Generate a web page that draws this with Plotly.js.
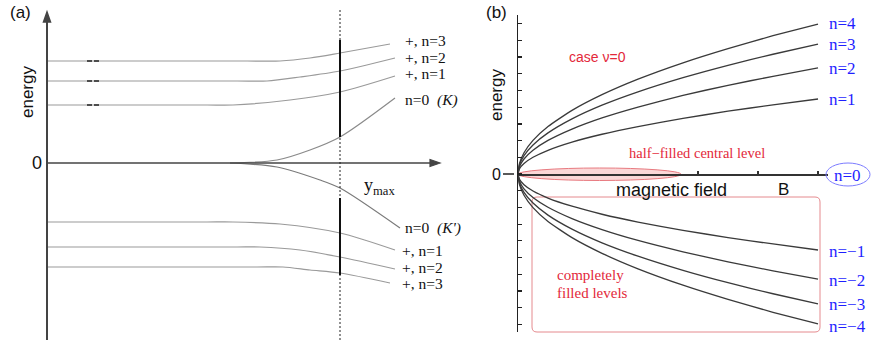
<!DOCTYPE html>
<html><head><meta charset="utf-8">
<script src="https://cdn.plot.ly/plotly-3.0.1.min.js"></script>
<style>html,body{margin:0;padding:0;background:#fff}#c{width:871px;height:347px}</style>
</head><body><div id="c"></div>
<script>
// ---------- Panel (a): levels vs position (x in arbitrary units, energy in arbitrary units)
const aUp3X = [0, 2.0, 2.33, 2.63, 2.93, 3.43];
const aUp3Y = [1.02, 1.02, 1.02, 1.05, 1.10, 1.19];
const aUp2X = [0, 1.9, 2.2, 2.53, 2.93, 3.48];
const aUp2Y = [0.82, 0.82, 0.82, 0.86, 0.92, 1.05];
const aUp1X = [0, 1.6, 1.86, 2.43, 2.93, 3.48];
const aUp1Y = [0.58, 0.58, 0.58, 0.63, 0.71, 0.87];
const aK0X  = [1.83, 2.3, 2.63, 2.93, 3.48];
const aK0Y  = [0.0, 0.03, 0.13, 0.26, 0.65];
const aKp0X = [1.83, 2.3, 2.73, 2.93, 3.53];
const aKp0Y = [0.0, -0.04, -0.17, -0.25, -0.65];
const aLo1X = [0, 1.6, 1.86, 2.33, 2.93, 3.48];
const aLo1Y = [-0.59, -0.59, -0.59, -0.61, -0.70, -0.87];
const aLo2X = [0, 1.9, 2.13, 2.53, 2.93, 3.48];
const aLo2Y = [-0.84, -0.84, -0.84, -0.87, -0.94, -1.06];
const aLo3X = [0, 2.1, 2.36, 2.63, 2.93, 3.43];
const aLo3Y = [-1.04, -1.04, -1.04, -1.07, -1.10, -1.20];
const aUpperLabels = ["+, n=3", "+, n=2", "+, n=1", "n=0  <i>(K)</i>"];
const aLowerLabels = ["n=0  <i>(K')</i>", "+, n=1", "+, n=2", "+, n=3"];

// ---------- Panel (b): Landau levels vs magnetic field
const bB   = [0, 0.005, 0.02, 0.05, 0.1, 0.18, 0.28, 0.4, 0.55, 0.7, 0.85, 1.0];
const bP1  = [0, 0.32, 0.63, 1.00, 1.42, 1.91, 2.38, 2.84, 3.33, 3.76, 4.14, 4.49];
const bP2  = [0, 0.45, 0.90, 1.42, 2.01, 2.69, 3.36, 4.01, 4.71, 5.31, 5.85, 6.35];
const bP3  = [0, 0.55, 1.10, 1.74, 2.46, 3.30, 4.12, 4.92, 5.77, 6.51, 7.17, 7.78];
const bP4  = [0, 0.63, 1.27, 2.01, 2.84, 3.81, 4.75, 5.68, 6.66, 7.51, 8.28, 8.98];
const bM1  = [0, -0.32, -0.64, -1.02, -1.44, -1.93, -2.41, -2.88, -3.37, -3.81, -4.19, -4.55];
const bM2  = [0, -0.44, -0.89, -1.41, -1.99, -2.67, -3.33, -3.98, -4.66, -5.26, -5.80, -6.29];
const bM3  = [0, -0.55, -1.10, -1.74, -2.46, -3.30, -4.12, -4.92, -5.77, -6.51, -7.17, -7.78];
const bM4  = [0, -0.63, -1.27, -2.01, -2.84, -3.81, -4.75, -5.68, -6.66, -7.51, -8.28, -8.98];
const bPosLabels = ["n=4", "n=3", "n=2", "n=1"];
const bNegLabels = ["n=\u22121", "n=\u22122", "n=\u22123", "n=\u22124"];

const W = 871, H = 347;
const PX = p => p / W, PY = p => 1 - p / H;
const SERIF = "Liberation Serif, Times New Roman, serif";
const SANS = "Liberation Sans, Arial, sans-serif";
const RED = "#e3283a", BLUE = "#1f1fff";

function aLine(x, y, col) {
  return {x: x, y: y, xaxis: "x", yaxis: "y", mode: "lines",
    line: {color: col, width: 1.2, shape: "spline", smoothing: 0.8}, hoverinfo: "skip"};
}
function bLine(y) {
  return {x: bB, y: y, xaxis: "x2", yaxis: "y2", mode: "lines",
    line: {color: "#3a3a3a", width: 1.3, shape: "spline", smoothing: 0.5}, hoverinfo: "skip"};
}
const traces = [
  aLine(aUp3X, aUp3Y, "#9a9a9a"), aLine(aUp2X, aUp2Y, "#9a9a9a"), aLine(aUp1X, aUp1Y, "#9a9a9a"),
  aLine(aK0X, aK0Y, "#8a8a8a"), aLine(aKp0X, aKp0Y, "#7a7a7a"),
  aLine(aLo1X, aLo1Y, "#9a9a9a"), aLine(aLo2X, aLo2Y, "#9a9a9a"), aLine(aLo3X, aLo3Y, "#9a9a9a"),
  bLine(bP1), bLine(bP2), bLine(bP3), bLine(bP4),
  bLine(bM1), bLine(bM2), bLine(bM3), bLine(bM4)
];

function seg(x0, y0, x1, y1, col, w, dash) {
  return {type: "line", xref: "paper", yref: "paper", x0: PX(x0), y0: PY(y0), x1: PX(x1), y1: PY(y1),
    line: {color: col, width: w, dash: dash || "solid"}, layer: "above"};
}
function poly(pts, col, w, closed, fill) {
  let s = "";
  pts.forEach((p, i) => { s += (i ? " L" : "M") + PX(p[0]) + "," + PY(p[1]); });
  if (closed) s += " Z";
  return {type: "path", xref: "paper", yref: "paper", path: s,
    line: {color: col, width: w}, fillcolor: fill || "rgba(0,0,0,0)", layer: "above"};
}
const shapes = [
  // axes of panel (a)
  seg(47, 14, 47, 340, "#444", 2),
  poly([[43.5, 22], [47, 12], [50.5, 22]], "#444", 1.5, true, "#444"),
  seg(47, 163, 438, 163, "#444", 1.5),
  poly([[430, 159.5], [440, 163], [430, 166.5]], "#444", 1.2, true, "#444"),
  // y_max marker in panel (a)
  seg(340, 10, 340, 340, "#222", 1, "2px,2px"),
  seg(340, 40, 340, 137, "#111", 2),
  seg(340, 198, 340, 275, "#111", 2),
  // short dashes on the levels
  seg(87, 61, 99, 61, "#222", 1.5, "5px,2px"),
  seg(87, 81, 99, 81, "#222", 1.5, "5px,2px"),
  seg(87, 105, 99, 105, "#222", 1.5, "5px,2px"),
  // zero tick of panel (b)
  seg(503, 174, 514, 174, "#222", 1.5),
  // hatched half-filled ellipse
  {type: "circle", xref: "paper", yref: "paper", x0: PX(518), x1: PX(681), y0: PY(168), y1: PY(180.5),
   fillcolor: "rgba(240,140,140,0.35)", line: {color: "#e87a80", width: 1}, layer: "below"},
  // blue ellipse around n=0
  {type: "circle", xref: "paper", yref: "paper", x0: PX(826), x1: PX(870), y0: PY(163), y1: PY(186),
   line: {color: "#7b7bff", width: 1}},
  // red box for filled levels
  {type: "path", xref: "paper", yref: "paper",
   path: (function () {
     const r = 5, x0 = 532, x1 = 820, y0 = 197, y1 = 332;
     const f = (x, y) => PX(x) + "," + PY(y);
     return "M" + f(x0 + r, y0) + " L" + f(x1 - r, y0) + " Q" + f(x1, y0) + " " + f(x1, y0 + r) +
       " L" + f(x1, y1 - r) + " Q" + f(x1, y1) + " " + f(x1 - r, y1) +
       " L" + f(x0 + r, y1) + " Q" + f(x0, y1) + " " + f(x0, y1 - r) +
       " L" + f(x0, y0 + r) + " Q" + f(x0, y0) + " " + f(x0 + r, y0) + " Z";
   })(),
   line: {color: "#e58a8e", width: 1}, layer: "below"}
];

function txt(s, x, y, opt) {
  opt = opt || {};
  return {text: s, xref: "paper", yref: "paper", x: PX(x), y: PY(y), showarrow: false,
    xanchor: opt.xa || "left", yanchor: "middle", textangle: opt.angle || 0,
    font: {family: opt.fam || SERIF, size: opt.size || 17, color: opt.col || "#111"}};
}
const LS = 15.5;
const annotations = [
  txt("(a)", 8, 13, {fam: SANS, size: 17}),
  txt("energy", 27, 92, {fam: SANS, size: 17, angle: -90, xa: "center"}),
  txt("0", 30, 163, {fam: SANS, size: 18}),
  txt(aUpperLabels[0], 403, 41, {size: LS}), txt(aUpperLabels[1], 403, 57.5, {size: LS}),
  txt(aUpperLabels[2], 403, 74, {size: LS}),
  txt(aUpperLabels[3], 403, 100, {size: LS}),
  txt("y<sub>max</sub>", 362, 186, {size: 18}),
  txt(aLowerLabels[0], 403, 228, {size: LS}), txt(aLowerLabels[1], 400, 250, {size: LS}),
  txt(aLowerLabels[2], 400, 267, {size: LS}),
  txt(aLowerLabels[3], 400, 283, {size: LS}),
  // panel (b)
  txt("(b)", 484, 13, {fam: SANS, size: 17}),
  txt("energy", 497, 95, {fam: SANS, size: 17, angle: -90, xa: "center"}),
  txt("0", 490, 174, {fam: SANS, size: 16}),
  txt(bPosLabels[0], 827, 24, {col: BLUE}), txt(bPosLabels[1], 827, 44, {col: BLUE}),
  txt(bPosLabels[2], 827, 68, {col: BLUE}), txt(bPosLabels[3], 827, 99, {col: BLUE}),
  txt("n=0", 832, 175, {col: BLUE}),
  txt(bNegLabels[0], 827, 251, {col: BLUE}), txt(bNegLabels[1], 827, 280, {col: BLUE}),
  txt(bNegLabels[2], 827, 304, {col: BLUE}), txt(bNegLabels[3], 827, 326, {col: BLUE}),
  txt("case \u03bd=0", 567, 57, {fam: SANS, size: 14, col: RED}),
  txt("half\u2212filled central level", 627, 153, {size: 14.5, col: RED}),
  txt("magnetic field", 614, 190, {fam: SANS, size: 18, col: "#111"}),
  txt("B", 776, 190, {fam: SANS, size: 17, col: "#111"}),
  txt("completely", 555, 275, {size: 15, col: RED}),
  txt("filled levels", 555, 293, {size: 15, col: RED})
];

const layout = {
  width: W, height: H, margin: {l: 0, r: 0, t: 0, b: 0}, showlegend: false,
  paper_bgcolor: "#fff", plot_bgcolor: "rgba(0,0,0,0)",
  xaxis: {domain: [PX(47), PX(460)], range: [0, 4.13], visible: false, fixedrange: true},
  yaxis: {domain: [PY(340), PY(15)], range: [-1.77, 1.48], visible: false, fixedrange: true},
  xaxis2: {domain: [PX(518), PX(828)], range: [0, 1.0333], anchor: "free", position: PY(174),
    showline: true, linecolor: "#333", linewidth: 1.5, ticks: "inside", ticklen: 3, tickwidth: 1.5,
    tickcolor: "#333", tickvals: [0.6, 0.8, 1.0], showticklabels: false, showgrid: false, zeroline: false},
  yaxis2: {domain: [PY(332), PY(15)], range: [-9.46, 9.52], anchor: "x2",
    showline: true, linecolor: "#222", linewidth: 1.5, ticks: "inside", ticklen: 4, tickwidth: 1.2,
    tickcolor: "#222", tick0: 0, dtick: 1, showticklabels: false, showgrid: false, zeroline: false},
  shapes: shapes, annotations: annotations
};
Plotly.newPlot("c", traces, layout, {staticPlot: true, displayModeBar: false});
</script></body></html>
